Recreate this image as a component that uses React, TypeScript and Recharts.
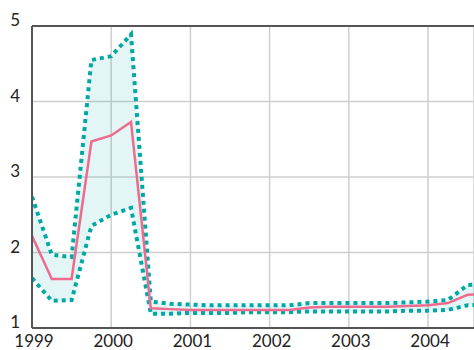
import React from 'react'
import {
  ComposedChart,
  Line,
  Area,
  XAxis,
  YAxis,
  CartesianGrid,
  ReferenceLine
} from 'recharts'

// quarterly observations, 1999 Q1 .. 2004 Q4
const quarters = [
  1999, 1999.25, 1999.5, 1999.75, 2000, 2000.25, 2000.5, 2000.75,
  2001, 2001.25, 2001.5, 2001.75, 2002, 2002.25, 2002.5, 2002.75,
  2003, 2003.25, 2003.5, 2003.75, 2004, 2004.25, 2004.5, 2004.75
]
const central = [
  2.22, 1.65, 1.65, 3.47, 3.55, 3.73, 1.26, 1.25,
  1.24, 1.24, 1.24, 1.24, 1.24, 1.24, 1.27, 1.28,
  1.28, 1.28, 1.28, 1.29, 1.3, 1.33, 1.44, 1.45
]
const upper = [
  2.74, 1.97, 1.94, 4.55, 4.6, 4.89, 1.35, 1.32,
  1.31, 1.3, 1.3, 1.3, 1.3, 1.3, 1.33, 1.33,
  1.33, 1.33, 1.33, 1.34, 1.35, 1.37, 1.57, 1.58
]
const lower = [
  1.66, 1.36, 1.37, 2.35, 2.5, 2.59, 1.19, 1.19,
  1.2, 1.2, 1.2, 1.21, 1.21, 1.21, 1.22, 1.22,
  1.22, 1.22, 1.22, 1.23, 1.23, 1.24, 1.3, 1.31
]
const yearTicks = [1999, 2000, 2001, 2002, 2003, 2004]
const valueTicks = [1, 2, 3, 4, 5]

const data = quarters.map((q, i) => ({
  t: q,
  central: central[i],
  upper: upper[i],
  lower: lower[i],
  band: [lower[i], upper[i]]
}))

const FONT = 'Lato, "Open Sans", sans-serif'
const TEAL = '#00a9a4'
const PINK = '#ee6b8f'

const YTick = (props: any) => {
  const { x, y, payload } = props
  return (
    <text x={x - 4} y={y} textAnchor="end" fontFamily={FONT} fontSize={17} fill="#222">
      {payload.value}
    </text>
  )
}

const XTick = (props: any) => {
  const { x, y, payload } = props
  return (
    <text x={x + 2} y={y + 11} textAnchor="middle" fontFamily={FONT} fontSize={17} fill="#222">
      {payload.value}
    </text>
  )
}

export default function App() {
  return (
    <div style={{ position: 'fixed', left: 0, top: 0, width: 474, height: 350, background: '#fff' }}>
      <ComposedChart
        width={474}
        height={350}
        data={data}
        margin={{ top: 26, right: 0, bottom: 0, left: 0 }}
      >
        <CartesianGrid stroke="#cfcfcf" strokeWidth={1.5} />
        <XAxis
          dataKey="t"
          type="number"
          domain={[1999, 2004.58]}
          allowDataOverflow
          ticks={yearTicks}
          tick={<XTick />}
          tickLine={false}
          axisLine={{ stroke: '#555', strokeWidth: 2 }}
          height={22}
        />
        <YAxis
          type="number"
          domain={[1, 5]}
          ticks={valueTicks}
          tick={<YTick />}
          tickLine={false}
          axisLine={{ stroke: '#555', strokeWidth: 2 }}
          width={32}
        />
        <ReferenceLine y={5} stroke="#555" strokeWidth={2} />
        <Area
          dataKey="band"
          type="linear"
          stroke="none"
          fill={TEAL}
          fillOpacity={0.11}
          isAnimationActive={false}
        />
        <Line
          dataKey="upper"
          type="linear"
          stroke={TEAL}
          strokeWidth={4}
          strokeDasharray="4 4"
          dot={false}
          isAnimationActive={false}
        />
        <Line
          dataKey="lower"
          type="linear"
          stroke={TEAL}
          strokeWidth={4}
          strokeDasharray="4 4"
          dot={false}
          isAnimationActive={false}
        />
        <Line
          dataKey="central"
          type="linear"
          stroke={PINK}
          strokeWidth={2.5}
          dot={false}
          isAnimationActive={false}
        />
      </ComposedChart>
    </div>
  )
}
